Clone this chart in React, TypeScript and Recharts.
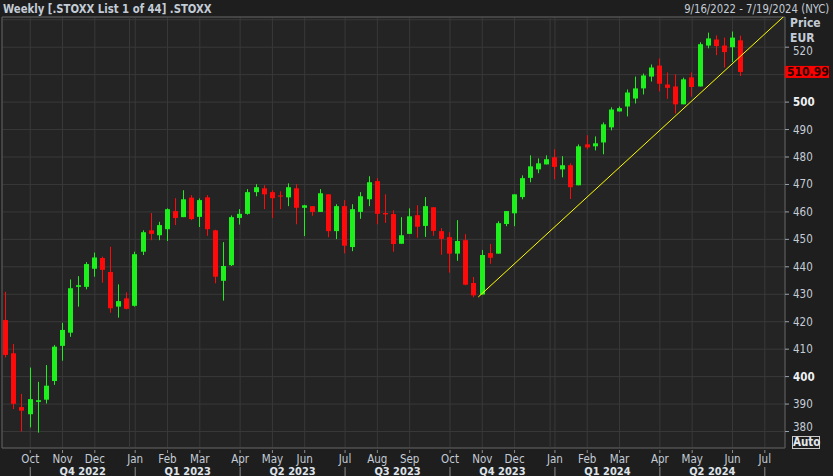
import { ComposedChart, Bar, XAxis, YAxis, CartesianGrid, ReferenceLine, ReferenceArea } from "recharts";

// weekly candles, dated by the Friday that closes the week
const FIRST_WEEK = Date.UTC(2022, 8, 16);
const WEEK_COUNT = 97; // axis runs to 7/19/2024, data ends 6/14/2024
const weekDates = Array.from({ length: WEEK_COUNT }, (_, i) => new Date(FIRST_WEEK + i * 7 * 86400000));
const dates = weekDates.map((d) => d.toISOString().slice(0, 10));

const opens = [
  420.6, 408.5, 388.9, 386.3, 390.8, 391.6, 398.4, 411.2, 416.0, 432.7, 432.7, 439.3, 443.2, 438.1, 425.5, 428.5,
  425.8, 445.5, 453.3, 451.5, 453.7, 460.3, 458.1, 465.2, 458.2, 465.3, 453.3, 434.9, 440.6, 457.8, 459.3, 467.2,
  468.6, 467.2, 466.0, 465.3, 468.6, 461.5, 462.1, 460.0, 466.4, 453.0, 462.1, 447.2, 460.0, 464.6, 471.2, 459.6,
  459.2, 448.4, 452.0, 458.8, 454.9, 461.7, 453.0, 450.8, 444.8, 449.7, 434.1, 429.9, 445.0, 444.8, 455.6, 459.5,
  465.4, 472.4, 475.5, 477.3, 479.9, 475.5, 477.0, 469.7, 484.6, 483.9, 485.3, 490.8, 496.6, 498.4, 501.3, 505.0,
  509.3, 513.3, 506.4, 505.7, 499.2, 509.0, 505.7, 520.6, 522.8, 520.6, 520.0, 522.5,
];
const highs = [
  430.9, 411.9, 393.7, 403.3, 398.1, 404.2, 411.5, 419.6, 435.4, 436.6, 441.7, 445.2, 443.7, 447.3, 433.6, 430.7,
  445.5, 453.3, 459.6, 456.4, 461.3, 465.0, 467.9, 466.1, 464.9, 466.1, 453.5, 449.0, 458.7, 461.0, 468.3, 470.1,
  469.7, 467.9, 467.5, 470.4, 470.1, 462.6, 462.1, 468.3, 466.4, 462.8, 464.3, 462.8, 467.2, 473.0, 472.3, 466.4,
  460.6, 458.1, 461.3, 462.4, 465.4, 461.7, 454.1, 452.6, 457.0, 451.9, 436.3, 446.1, 448.3, 456.6, 460.3, 466.4,
  473.3, 480.6, 479.5, 480.6, 482.8, 480.3, 477.7, 484.6, 487.9, 487.5, 492.6, 498.1, 498.4, 504.6, 509.3, 510.4,
  513.7, 515.9, 510.8, 510.1, 508.9, 510.8, 521.8, 525.3, 524.3, 523.5, 525.7, 524.2,
];
const lows = [
  407.0, 388.2, 380.0, 381.5, 379.6, 390.2, 397.0, 405.8, 414.5, 425.5, 431.8, 436.4, 434.2, 423.3, 421.5, 424.5,
  425.5, 444.3, 449.7, 449.7, 449.4, 455.2, 458.1, 457.0, 454.5, 451.3, 434.0, 427.7, 440.3, 455.4, 459.0, 465.7,
  461.0, 457.8, 461.0, 462.1, 455.5, 451.2, 458.6, 460.0, 450.8, 450.1, 444.9, 445.7, 457.5, 462.1, 455.5, 456.0,
  445.5, 448.4, 452.0, 450.6, 450.9, 451.3, 444.4, 437.9, 442.2, 433.3, 428.9, 429.9, 441.1, 444.8, 454.8, 454.8,
  464.6, 470.8, 474.1, 477.3, 471.9, 472.6, 464.7, 469.7, 482.8, 482.4, 481.0, 489.7, 496.6, 494.8, 499.5, 502.8,
  507.5, 503.9, 501.2, 495.8, 499.2, 502.0, 505.7, 519.6, 517.1, 512.6, 514.6, 509.5,
];
const closes = [
  407.9, 390.1, 387.6, 391.8, 391.4, 396.7, 410.9, 417.0, 432.2, 433.3, 441.0, 443.4, 438.9, 424.9, 427.5, 424.7,
  444.6, 452.6, 452.0, 455.2, 461.0, 457.8, 464.6, 457.4, 464.3, 453.7, 436.4, 440.3, 458.1, 459.3, 467.2, 469.0,
  466.4, 465.0, 465.6, 469.0, 461.5, 462.4, 460.0, 466.8, 453.0, 462.1, 447.7, 461.0, 465.7, 470.8, 459.3, 459.1,
  448.3, 451.5, 458.4, 454.6, 462.1, 453.1, 450.2, 444.8, 449.4, 433.5, 429.6, 444.3, 443.3, 455.9, 460.3, 466.4,
  472.3, 476.6, 477.7, 479.2, 476.4, 477.0, 469.0, 483.9, 483.5, 485.0, 491.9, 497.3, 497.8, 503.5, 505.0, 509.7,
  512.6, 506.7, 505.2, 499.2, 508.3, 505.5, 521.1, 523.2, 520.4, 518.2, 523.5, 510.99,
];

const priceTicks = [380, 390, 400, 410, 420, 430, 440, 450, 460, 470, 480, 490, 500, 510, 520, 530];
const boldTicks = [400, 500];
const monthNames = ["Jan", "Feb", "Mar", "Apr", "May", "Jun", "Jul", "Aug", "Sep", "Oct", "Nov", "Dec"];

// trend line drawn from the Oct 2023 low, in week-index units
const trendStart = { x: 58.5, y: 429.0 };
const trendEnd = { x: 96.5, y: 531.6 };
const yearBreaks = [15.3, 67.4];

const lastClose = closes[closes.length - 1];

const GREEN = "#1ef01e";
const RED = "#ff0a0a";
const TEXT = "#c3ccd6";
const GRID = "#393939";
const FONT = '"DejaVu Sans Condensed", "Liberation Sans Narrow", sans-serif';

const PLOT_W = 833 - 2 - 48;
const BAND = PLOT_W / WEEK_COUNT;

const monthTicks: string[] = [];
const quarterStarts: number[] = [];
weekDates.forEach((d, i) => {
  if (i > 0 && d.getUTCMonth() !== weekDates[i - 1].getUTCMonth()) {
    monthTicks.push(dates[i]);
    if (d.getUTCMonth() % 3 === 0) quarterStarts.push(i);
  }
});

const data = dates.map((date, i) =>
  i < closes.length
    ? { date, i, o: opens[i], h: highs[i], l: lows[i], c: closes[i], range: [lows[i], highs[i]] }
    : { date, i }
);

function Candle(props: any) {
  const { x, y, width, height, payload } = props;
  if (payload == null || payload.c == null) return null;
  const top = Math.min(y, y + height);
  const bot = Math.max(y, y + height);
  const k = (bot - top) / (payload.h - payload.l || 1);
  const py = (v: number) => top + (payload.h - v) * k;
  const cx = Math.floor(x + width / 2);
  const color = payload.c >= payload.o ? GREEN : RED;
  const bt = py(Math.max(payload.o, payload.c));
  const bb = py(Math.min(payload.o, payload.c));
  return (
    <g>
      <rect x={cx} y={top} width={1} height={Math.max(1, bot - top)} fill={color} />
      <rect x={cx - 2} y={bt} width={5} height={Math.max(1, bb - bt)} fill={color} />
    </g>
  );
}

function MonthTick(props: any) {
  const { x, y, payload } = props;
  const idx = dates.indexOf(payload.value);
  const d = weekDates[idx];
  const m = d.getUTCMonth();
  const qPos = quarterStarts.indexOf(idx);
  const next = qPos >= 0 ? quarterStarts[qPos + 1] : undefined;
  return (
    <g>
      <line x1={x} x2={x} y1={y + 2} y2={y + 5} stroke="#8c8c8c" />
      <text x={x} y={y + 15} textAnchor="middle" fill={TEXT} fontSize={11.5} fontFamily={FONT}>
        {monthNames[m]}
      </text>
      {qPos >= 0 && <line x1={x} x2={x} y1={y + 19} y2={y + 28} stroke="#8c8c8c" />}
      {next !== undefined && (
        <text
          x={x + ((next - idx) * BAND) / 2}
          y={y + 26.5}
          textAnchor="middle"
          fill="#dfe4ea"
          fontSize={11}
          fontWeight="bold"
          fontFamily={FONT}
        >
          {`Q${Math.floor(m / 3) + 1} ${d.getUTCFullYear()}`}
        </text>
      )}
    </g>
  );
}

function PriceTick(props: any) {
  const { x, y, payload } = props;
  const v = payload.value;
  if (v === 530 || v === 510) return null;
  const bold = boldTicks.includes(v);
  const dy = v === 380 ? -5 : v === 520 ? 4 : 0;
  return (
    <g>
      <line x1={x} x2={x + 4} y1={y} y2={y} stroke="#9aa3ad" />
      <text
        x={x + 8}
        y={y + dy}
        dy={4}
        fill={bold ? "#eef1f4" : TEXT}
        fontSize={11.5}
        fontWeight={bold ? "bold" : "normal"}
        fontFamily={FONT}
      >
        {v}
      </text>
    </g>
  );
}

function PriceTag(props: any) {
  const vb = props.viewBox;
  if (!vb) return null;
  const x = vb.x + vb.width;
  return (
    <g>
      <rect x={x} y={vb.y - 6} width={44} height={12} fill="#ff0000" />
      <text x={x + 2} y={vb.y} dy={4.5} fill="#2a0000" fontSize={12} fontWeight="bold" fontFamily={FONT}>
        {lastClose.toFixed(2)}
      </text>
    </g>
  );
}

const overlay = {
  position: "absolute" as const,
  fontFamily: FONT,
  color: TEXT,
  whiteSpace: "nowrap" as const,
};

export default function App() {
  return (
    <div style={{ position: "absolute", left: 0, top: 0, width: 833, height: 476, background: "#1e1e1e", overflow: "hidden" }}>
      <ComposedChart width={833} height={476} data={data} margin={{ top: 17, right: 0, bottom: 0, left: 2 }}>
        <CartesianGrid stroke={GRID} fill="#242424" />
        <XAxis
          dataKey="date"
          ticks={monthTicks}
          interval={0}
          height={28}
          axisLine={false}
          tickLine={false}
          tickSize={0}
          tickMargin={0}
          tick={<MonthTick />}
        />
        <XAxis xAxisId="n" type="number" dataKey="i" domain={[-0.5, WEEK_COUNT - 0.5]} allowDataOverflow hide />
        <YAxis
          orientation="right"
          type="number"
          domain={[374, 531]}
          ticks={priceTicks}
          interval={0}
          allowDataOverflow
          width={48}
          axisLine={false}
          tickLine={false}
          tickSize={0}
          tickMargin={0}
          tick={<PriceTick />}
        />
        {yearBreaks.map((b) => (
          <ReferenceLine key={b} xAxisId="n" x={b} stroke={GRID} />
        ))}
        <Bar dataKey="range" shape={<Candle />} isAnimationActive={false} />
        <ReferenceLine
          xAxisId="n"
          segment={[trendStart, trendEnd]}
          stroke="#ffff00"
          strokeWidth={1}
          ifOverflow="hidden"
        />
        <ReferenceArea xAxisId="n" x1={-0.5} x2={WEEK_COUNT - 0.5} y1={374} y2={531} fill="none" stroke="#5c5c5c" ifOverflow="visible" />
        <ReferenceLine y={lastClose} stroke="none" label={<PriceTag />} />
      </ComposedChart>
      <div
        style={{
          ...overlay,
          left: 3,
          top: 1,
          fontSize: 12.5,
          fontWeight: "bold",
          lineHeight: "15px",
          transform: "scaleX(0.9)",
          transformOrigin: "left top",
        }}
      >
        Weekly [.STOXX List 1 of 44] .STOXX
      </div>
      <div
        style={{
          ...overlay,
          right: 4,
          top: 1,
          fontSize: 12.5,
          lineHeight: "15px",
          transform: "scaleX(0.9)",
          transformOrigin: "right top",
        }}
      >
        9/16/2022 - 7/19/2024 (NYC)
      </div>
      <div style={{ ...overlay, left: 790, top: 16, fontSize: 12, fontWeight: "bold", lineHeight: "14px" }}>Price</div>
      <div style={{ ...overlay, left: 790, top: 31, fontSize: 12, fontWeight: "bold", lineHeight: "14px" }}>EUR</div>
      <div
        style={{
          ...overlay,
          left: 792,
          top: 436,
          width: 26,
          height: 11,
          border: "1px solid #c8c8c8",
          fontSize: 11.5,
          fontWeight: "bold",
          lineHeight: "11px",
          textAlign: "center",
          color: "#e4e8ec",
        }}
      >
        Auto
      </div>
    </div>
  );
}
